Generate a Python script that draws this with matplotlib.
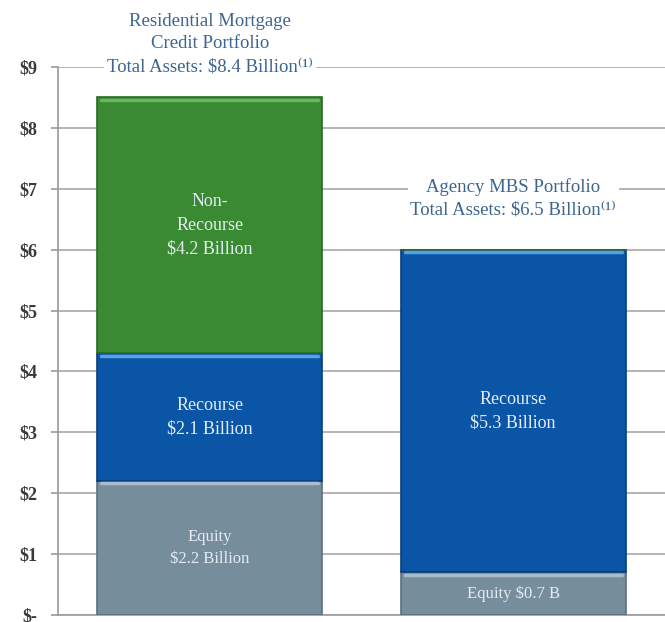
import matplotlib.pyplot as plt
import numpy as np

plt.rcParams['font.family'] = ['Liberation Serif', 'DejaVu Serif']

portfolios = ["Residential Mortgage\nCredit Portfolio", "Agency MBS Portfolio"]
total_assets = ["$8.4 Billion", "$6.5 Billion"]
equity = [2.2, 0.7]
recourse = [2.1, 5.3]
non_recourse = [4.2, 0.0]
equity_labels = ["Equity\n$2.2 Billion", "Equity $0.7 B"]
recourse_labels = ["Recourse\n$2.1 Billion", "Recourse\n$5.3 Billion"]
non_recourse_labels = ["Non-\nRecourse\n$4.2 Billion", ""]
yticks = [0, 1, 2, 3, 4, 5, 6, 7, 8, 9]
ytick_labels = ["$-", "$1", "$2", "$3", "$4", "$5", "$6", "$7", "$8", "$9"]

fig = plt.figure(figsize=(6.65, 6.22), dpi=100)
ax = fig.add_axes([58 / 665, 7 / 622, 607 / 665, 548 / 622])

x = np.arange(len(portfolios))
width = 0.74
layers = [
    (equity, equity_labels, "#768d9c", "#5b7080", "#a9bccb", 12),
    (recourse, recourse_labels, "#0b55a6", "#083f7d", "#58a0e6", 13),
    (non_recourse, non_recourse_labels, "#3a8a33", "#2a6a25", "#66b85c", 13),
]

bottom = np.zeros(len(portfolios))
for vals, labels, color, edge, hi, fs in layers:
    vals = np.array(vals)
    ax.bar(x, vals, width, bottom=bottom, color=color, edgecolor=edge,
           linewidth=1.2, zorder=3)
    for i in range(len(x)):
        if vals[i] <= 0:
            continue
        top = bottom[i] + vals[i]
        # light bevel along the top edge of each block
        ax.plot([x[i] - width / 2 + 0.012, x[i] + width / 2 - 0.012],
                [top - 0.04, top - 0.04], color=hi, lw=2.5,
                solid_capstyle="round", zorder=4)
        ax.text(x[i], bottom[i] + vals[i] / 2, labels[i], ha="center",
                va="center", color="#e4ecf3", fontsize=fs,
                linespacing=1.5, zorder=5)
    bottom = bottom + vals

title_y = [9.38, 6.84]
for i in range(len(x)):
    ax.text(x[i], title_y[i],
            portfolios[i] + "\nTotal Assets: " + total_assets[i] + "⁽¹⁾",
            ha="center", va="center", color="#3d6490", fontsize=13.5,
            linespacing=1.45, zorder=6, clip_on=False,
            bbox=dict(facecolor="white", edgecolor="none", pad=2))

ax.set_xlim(-0.5, 1.5)
ax.set_ylim(0, 9)
ax.set_xticks([])
ax.set_yticks(yticks)
ax.set_yticklabels(ytick_labels, fontsize=13, color="#3a3a3a",
                   fontweight="bold")
ax.tick_params(axis="y", direction="out", length=5, width=1.2,
               color="#9a9a9a", pad=10)
ax.yaxis.grid(True, color="#a8a8a8", linewidth=1.2, zorder=0)
ax.set_axisbelow(True)
for side in ["top", "right"]:
    ax.spines[side].set_visible(False)
ax.spines["left"].set_color("#9a9a9a")
ax.spines["left"].set_linewidth(1.2)
ax.spines["bottom"].set_color("#9a9a9a")
ax.spines["bottom"].set_linewidth(1.2)

fig.savefig("out.png", dpi=100)
